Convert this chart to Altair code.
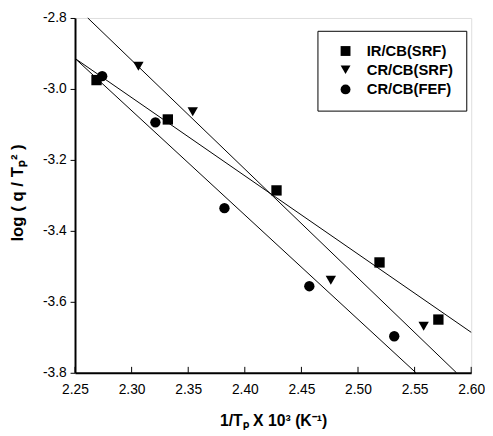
import altair as alt
import pandas as pd

series_names = ["IR/CB(SRF)", "CR/CB(SRF)", "CR/CB(FEF)"]

# data points (1/Tp x 10^3, log(q/Tp^2))
sq_x = [2.269, 2.332, 2.428, 2.519, 2.571]
sq_y = [-2.975, -3.086, -3.286, -3.489, -3.650]
tri_x = [2.306, 2.354, 2.476, 2.558]
tri_y = [-2.936, -3.064, -3.539, -3.669]
cir_x = [2.274, 2.321, 2.382, 2.457, 2.532]
cir_y = [-2.964, -3.094, -3.336, -3.556, -3.697]

# fitted lines (endpoints)
fit_sq_x = [2.25, 2.60]
fit_sq_y = [-2.914, -3.686]
fit_tri_x = [2.2613, 2.587]
fit_tri_y = [-2.80, -3.80]
fit_cir_x = [2.25, 2.5512]
fit_cir_y = [-2.914, -3.80]

x_ticks = [2.25, 2.30, 2.35, 2.40, 2.45, 2.50, 2.55, 2.60]
y_ticks = [-2.8, -3.0, -3.2, -3.4, -3.6, -3.8]

pts = pd.DataFrame(
    [{"s": series_names[0], "x": a, "y": b} for a, b in zip(sq_x, sq_y)]
    + [{"s": series_names[1], "x": a, "y": b} for a, b in zip(tri_x, tri_y)]
    + [{"s": series_names[2], "x": a, "y": b} for a, b in zip(cir_x, cir_y)]
)
fits = pd.DataFrame(
    [{"s": series_names[0], "x": a, "y": b} for a, b in zip(fit_sq_x, fit_sq_y)]
    + [{"s": series_names[1], "x": a, "y": b} for a, b in zip(fit_tri_x, fit_tri_y)]
    + [{"s": series_names[2], "x": a, "y": b} for a, b in zip(fit_cir_x, fit_cir_y)]
)
ticks = pd.DataFrame({"x": x_ticks})

FONT = "Liberation Sans"

xscale = alt.Scale(domain=[2.25, 2.60], nice=False, zero=False)
yscale = alt.Scale(domain=[-3.8, -2.8], nice=False, zero=False)

xaxis = alt.Axis(
    values=x_ticks, format=".2f", title="1/Tₚ X 10³  (K⁻¹)",
    ticks=False, labelPadding=10, labelFontSize=14, labelFont=FONT,
    labelColor="black", domainColor="black", domainWidth=2, grid=False,
    titleFont=FONT, titleFontSize=16, titleFontWeight="bold", titleColor="black",
    titleY=49, titleBaseline="middle", labelFlush=False,
)
yaxis = alt.Axis(
    values=y_ticks, title="log ( q / Tₚ² )",
    labelExpr="'-' + format(abs(datum.value), '.1f')",
    tickSize=5, tickColor="black", labelPadding=4, labelFontSize=14, labelFont=FONT,
    labelColor="black", domainColor="black", domainWidth=2, grid=False,
    titleFont=FONT, titleFontSize=17, titleFontWeight="bold", titleColor="black",
    titleX=-58, titleY=177, titleAngle=270, titleBaseline="middle", labelFlush=False,
)

lines = alt.Chart(fits).mark_line(color="black", strokeWidth=1).encode(
    x=alt.X("x:Q", scale=xscale, axis=xaxis),
    y=alt.Y("y:Q", scale=yscale, axis=yaxis),
    detail="s:N",
)

points = alt.Chart(pts).mark_point(filled=True, opacity=1, color="black").encode(
    x=alt.X("x:Q", scale=xscale),
    y=alt.Y("y:Q", scale=yscale),
    shape=alt.Shape(
        "s:N",
        scale=alt.Scale(domain=series_names, range=["square", "triangle-down", "circle"]),
        legend=alt.Legend(
            title=None, orient="none", legendX=246, legendY=13,
            fillColor="white", strokeColor="black", padding=13,
            labelFont=FONT, labelFontSize=15, labelFontWeight="bold", labelColor="black",
            symbolFillColor="black", symbolStrokeColor="black", symbolSize=100,
            symbolOffset=8, labelOffset=14, rowPadding=3,
        ),
    ),
    size=alt.value(110),
)

xticks_in = alt.Chart(ticks).mark_rule(color="black", strokeWidth=1).encode(
    x=alt.X("x:Q", scale=xscale),
    y=alt.value(360),
    y2=alt.value(354),
)

chart = alt.layer(lines, xticks_in, points).properties(
    width=402, height=360,
    autosize=alt.AutoSizeParams(type="none"),
    padding={"left": 68, "top": 7, "right": 14, "bottom": 60},
).configure_view(stroke="black", strokeWidth=1.5).configure(background="white")

chart.save("out.html", embed_options={"renderer": "svg", "actions": False})
